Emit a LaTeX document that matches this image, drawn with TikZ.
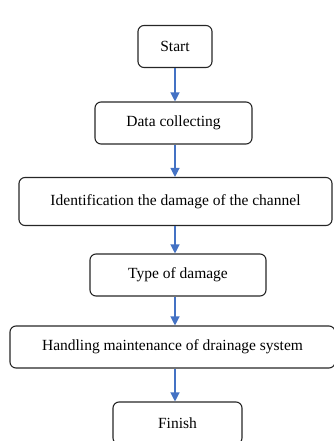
\documentclass[tikz,border=0pt]{standalone}
\usepackage{fontspec}
\setmainfont{Liberation Serif}
\usetikzlibrary{arrows.meta}
\definecolor{flowblue}{RGB}{68,114,196}

\begin{document}
\begin{tikzpicture}[x=1pt,y=1pt,
    stepbox/.style={draw=black!85, line width=1.1pt, rounded corners=6pt,
        font=\fontsize{15.5}{18}\selectfont, minimum height=42pt, inner sep=0pt},
    flow/.style={draw=flowblue, line width=1.2pt, -{Triangle[width=9pt,length=9pt]}}]

    \useasboundingbox (0,0) rectangle (333,-441);

    \node [stepbox, minimum width=74pt]  (start)  at (175,-46.5)  {Start};
    \node [stepbox, minimum width=157pt] (data)   at (173.5,-123) {Data collecting};
    \node [stepbox, minimum width=313pt, minimum height=48pt] (ident) at (175.5,-201.5) {Identification the damage of the channel};
    \node [stepbox, minimum width=176pt] (type)   at (178,-275)   {Type of damage};
    \node [stepbox, minimum width=325pt] (handle) at (172.5,-347) {Handling maintenance of drainage system};
    \node [stepbox, minimum width=129pt] (finish) at (177.5,-423) {Finish};

    % arrows down the chain, all on the axis of start
    \draw [flow] (start.south) -- (start.south |- data.north);
    \draw [flow] (start.south |- data.south)   -- (start.south |- ident.north);
    \draw [flow] (start.south |- ident.south)  -- (start.south |- type.north);
    \draw [flow] (start.south |- type.south)   -- (start.south |- handle.north);
    \draw [flow] (start.south |- handle.south) -- (start.south |- finish.north);

\end{tikzpicture}
\end{document}
